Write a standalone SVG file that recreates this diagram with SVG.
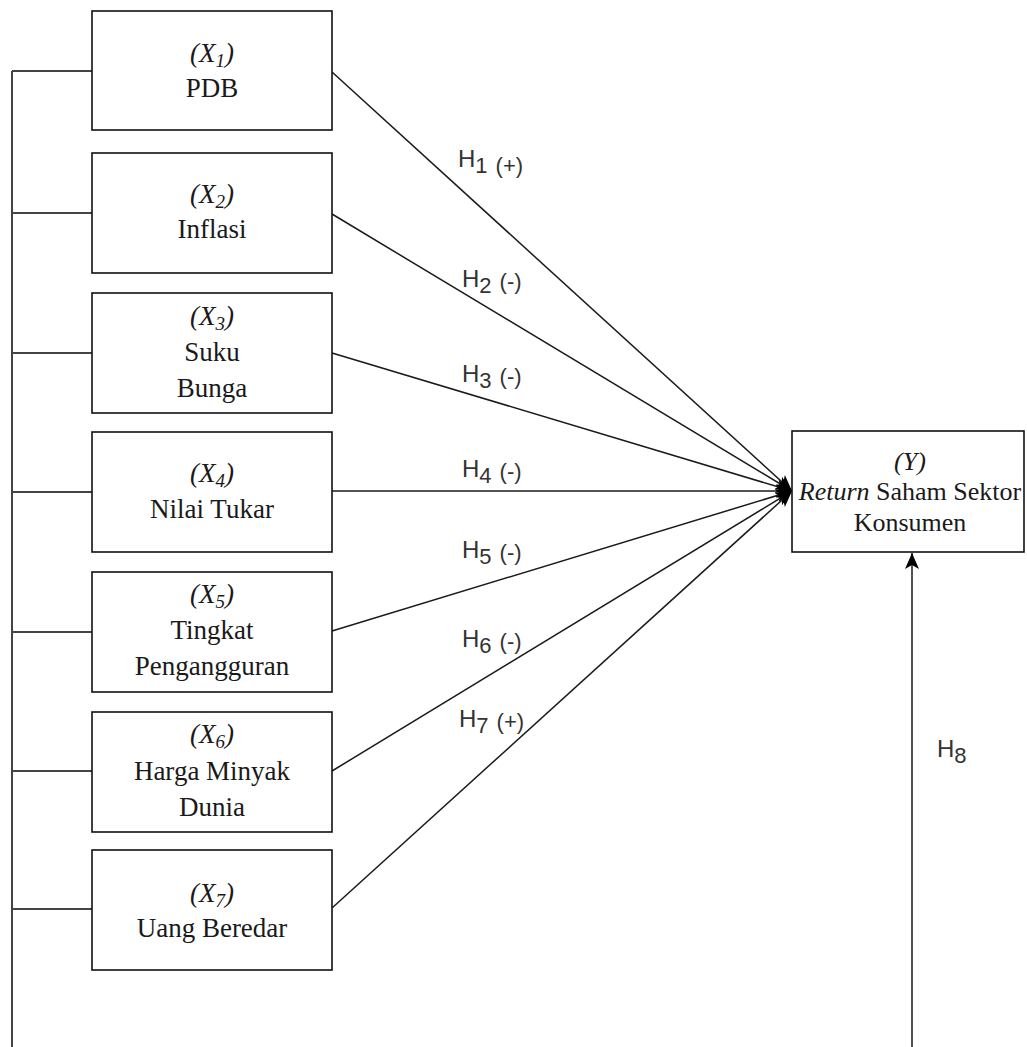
<svg xmlns="http://www.w3.org/2000/svg" width="1027" height="1047" viewBox="0 0 1027 1047">
<style>
.box{fill:#fff;stroke:#111;stroke-width:1.6}
.t{font-family:"Liberation Serif","Times New Roman",serif;font-size:27px;fill:#1a1a1a;text-anchor:middle}
.ty{font-family:"Liberation Serif","Times New Roman",serif;font-size:26px;fill:#1a1a1a;text-anchor:middle}
.it{font-style:italic}
.s{font-size:19px}
.c{fill:none;stroke:#1a1a1a;stroke-width:1.5}
.l{fill:none;stroke:#444;stroke-width:2}
.h{font-family:"Liberation Sans",Arial,sans-serif;font-size:24px;fill:#333}
.d{font-size:22px}
.p{font-size:22px}
</style>
<defs>
<marker id="arr" markerUnits="userSpaceOnUse" markerWidth="18" markerHeight="16" viewBox="0 0 18 16" refX="17" refY="8" orient="auto">
<path d="M17,8 L1,1 L5,8 L1,15 Z" fill="#000"/>
</marker>
</defs>
<rect width="1027" height="1047" fill="#fff"/>
<g id="connectors">
<path class="l" d="M12,71 V1047"/>
<path class="l" d="M12,71 H92 M12,213 H92 M12,353 H92 M12,492 H92 M12,632 H92 M12,771 H92 M12,909 H92"/>
<line class="c" x1="332" y1="72" x2="792" y2="491" marker-end="url(#arr)"/>
<line class="c" x1="332" y1="214" x2="792" y2="491" marker-end="url(#arr)"/>
<line class="c" x1="332" y1="353" x2="792" y2="491" marker-end="url(#arr)"/>
<line class="c" x1="332" y1="491" x2="792" y2="491" marker-end="url(#arr)"/>
<line class="c" x1="332" y1="631" x2="792" y2="491" marker-end="url(#arr)"/>
<line class="c" x1="332" y1="771" x2="792" y2="491" marker-end="url(#arr)"/>
<line class="c" x1="332" y1="908" x2="792" y2="491" marker-end="url(#arr)"/>
<line class="c" x1="912" y1="1047" x2="912" y2="553" marker-end="url(#arr)"/>
<text class="h" x="458" y="167">H<tspan class="d" dy="6">1</tspan><tspan class="p" dx="8">(+)</tspan></text>
<text class="h" x="462" y="287">H<tspan class="d" dy="6">2</tspan><tspan class="p" dx="8" dy="-4">(-)</tspan></text>
<text class="h" x="462" y="382">H<tspan class="d" dy="6">3</tspan><tspan class="p" dx="8" dy="-4">(-)</tspan></text>
<text class="h" x="462" y="477">H<tspan class="d" dy="6">4</tspan><tspan class="p" dx="8" dy="-4">(-)</tspan></text>
<text class="h" x="462" y="558">H<tspan class="d" dy="6">5</tspan><tspan class="p" dx="8" dy="-4">(-)</tspan></text>
<text class="h" x="462" y="647">H<tspan class="d" dy="6">6</tspan><tspan class="p" dx="8" dy="-4">(-)</tspan></text>
<text class="h" x="459" y="727">H<tspan class="d" dy="6">7</tspan><tspan class="p" dx="8" dy="-4">(+)</tspan></text>
<text class="h" x="937" y="757">H<tspan class="d" dy="6">8</tspan></text>
</g>
<g id="x1">
<rect class="box" x="92" y="11" width="240" height="119"/>
<text class="t it" x="212" y="62">(X<tspan class="s" dy="5">1</tspan><tspan dy="-5">)</tspan></text>
<text class="t" x="212" y="97">PDB</text>
</g>
<g id="x2">
<rect class="box" x="92" y="153" width="240" height="120"/>
<text class="t it" x="212" y="203">(X<tspan class="s" dy="5">2</tspan><tspan dy="-5">)</tspan></text>
<text class="t" x="212" y="238">Inflasi</text>
</g>
<g id="x3">
<rect class="box" x="92" y="293" width="240" height="120"/>
<text class="t it" x="212" y="325">(X<tspan class="s" dy="5">3</tspan><tspan dy="-5">)</tspan></text>
<text class="t" x="212" y="361">Suku</text>
<text class="t" x="212" y="397">Bunga</text>
</g>
<g id="x4">
<rect class="box" x="92" y="432" width="240" height="120"/>
<text class="t it" x="212" y="482">(X<tspan class="s" dy="5">4</tspan><tspan dy="-5">)</tspan></text>
<text class="t" x="212" y="518">Nilai Tukar</text>
</g>
<g id="x5">
<rect class="box" x="92" y="572" width="240" height="120"/>
<text class="t it" x="212" y="603">(X<tspan class="s" dy="5">5</tspan><tspan dy="-5">)</tspan></text>
<text class="t" x="212" y="639">Tingkat</text>
<text class="t" x="212" y="675">Pengangguran</text>
</g>
<g id="x6">
<rect class="box" x="92" y="712" width="240" height="120"/>
<text class="t it" x="212" y="743">(X<tspan class="s" dy="5">6</tspan><tspan dy="-5">)</tspan></text>
<text class="t" x="212" y="780">Harga Minyak</text>
<text class="t" x="212" y="816">Dunia</text>
</g>
<g id="x7">
<rect class="box" x="92" y="850" width="240" height="120"/>
<text class="t it" x="212" y="902">(X<tspan class="s" dy="5">7</tspan><tspan dy="-5">)</tspan></text>
<text class="t" x="212" y="937">Uang Beredar</text>
</g>
<g id="y">
<rect class="box" x="792" y="431" width="232" height="121"/>
<text class="ty it" x="910" y="470">(Y)</text>
<text class="ty" x="910" y="500"><tspan class="it">Return</tspan> Saham Sektor</text>
<text class="ty" x="910" y="531">Konsumen</text>
</g>
</svg>
